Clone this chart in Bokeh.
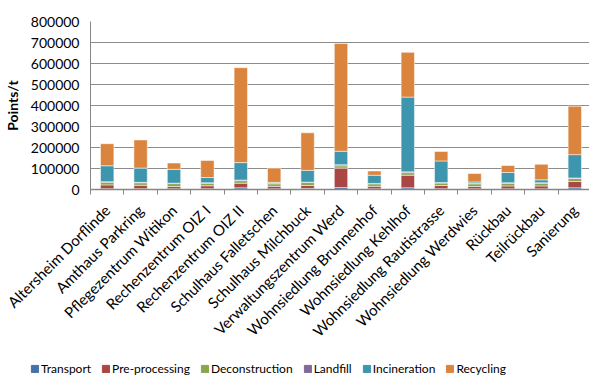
from bokeh.plotting import figure
from bokeh.models import FixedTicker, ColumnDataSource, Legend, NumeralTickFormatter
from bokeh.layouts import column
from bokeh.embed import file_html
from bokeh.resources import INLINE
import math

categories = ["Altersheim Dorflinde", "Amthaus Parkring", "Pflegezentrum Witikon",
              "Rechenzentrum OIZ I", "Rechenzentrum OIZ II", "Schulhaus Falletschen",
              "Schulhaus Milchbuck", "Verwaltungszentrum Werd", "Wohnsiedlung Brunnenhof",
              "Wohnsiedlung Kehlhof", "Wohnsiedlung Rautistrasse", "Wohnsiedlung Werdwies",
              "Rückbau", "Teilrückbau", "Sanierung"]

transport      = [4000, 4000, 3000, 4000, 8000, 3000, 5000, 9000, 3000, 8000, 4000, 3000, 3000, 3000, 8000]
pre_processing = [18000, 16000, 11000, 14000, 22000, 12000, 14000, 93000, 12000, 60000, 15000, 11000, 14000, 14000, 30000]
deconstruction = [13000, 12000, 14000, 12000, 12000, 12000, 14000, 11000, 12000, 12000, 12000, 13000, 13000, 13000, 14000]
landfill       = [2000, 2000, 2000, 2000, 3000, 2000, 2000, 5000, 2000, 4000, 2000, 3000, 2000, 2000, 3000]
incineration   = [76000, 68000, 66000, 25000, 83000, 5000, 56000, 64000, 39000, 356000, 103000, 6000, 49000, 14000, 111000]
recycling      = [105000, 134000, 30000, 81000, 452000, 68000, 179000, 513000, 20000, 213000, 45000, 40000, 33000, 74000, 231000]

series_names = ["Transport", "Pre-processing", "Deconstruction", "Landfill", "Incineration", "Recycling"]
series_keys = ["transport", "pre_processing", "deconstruction", "landfill", "incineration", "recycling"]
colors = ["#4572A7", "#AA4643", "#89A54E", "#80699B", "#3D96AE", "#DB843D"]
y_ticks = [0, 100000, 200000, 300000, 400000, 500000, 600000, 700000, 800000]

positions = list(range(1, len(categories) + 1))
source = ColumnDataSource(dict(x=positions, transport=transport, pre_processing=pre_processing,
                               deconstruction=deconstruction, landfill=landfill,
                               incineration=incineration, recycling=recycling))

FONT = "Lato"
p = figure(frame_width=501, frame_height=168, output_backend="svg", toolbar_location=None,
           x_range=(0.5, len(categories) + 0.5), y_range=(0, 800000),
           min_border_left=88, min_border_right=0, min_border_top=21, min_border_bottom=0)
p.outline_line_color = None
p.background_fill_color = "white"
p.border_fill_color = "white"

renderers = p.vbar_stack(series_keys, x="x", width=0.4, source=source, color=colors,
                         line_color="white", line_alpha=0.5, line_width=1)

# y axis
p.yaxis.ticker = FixedTicker(ticks=y_ticks)
p.yaxis.formatter = NumeralTickFormatter(format="0")
p.yaxis.major_tick_line_color = None
p.yaxis.minor_tick_line_color = None
p.yaxis.axis_line_color = "#868686"
p.yaxis.major_label_text_font = FONT
p.yaxis.major_label_text_font_size = "14px"
p.yaxis.major_label_text_color = "#000000"
p.yaxis.major_label_standoff = 5
p.yaxis.axis_label = "Points/t"
p.yaxis.axis_label_text_font = FONT
p.yaxis.axis_label_text_font_size = "14px"
p.yaxis.axis_label_text_font_style = "bold"
p.yaxis.axis_label_text_color = "#000000"
p.yaxis.axis_label_standoff = 7

p.ygrid.ticker = FixedTicker(ticks=y_ticks)
p.ygrid.grid_line_color = "#8c8c8c"
p.ygrid.grid_line_width = 1
p.xgrid.grid_line_color = None

# x axis: labels at centers, tick marks between categories
p.xaxis.ticker = FixedTicker(ticks=positions, minor_ticks=[x - 0.5 for x in positions] + [len(categories) + 0.5])
p.xaxis.major_label_overrides = {i: c for i, c in zip(positions, categories)}
p.xaxis.major_tick_line_color = None
p.xaxis.minor_tick_line_color = "#868686"
p.xaxis.minor_tick_out = 5
p.xaxis.minor_tick_in = 0
p.xaxis.axis_line_color = "#868686"
p.xaxis.axis_line_width = 1.5
p.xaxis.major_label_orientation = math.pi / 4
p.xaxis.major_label_text_font = FONT
p.xaxis.major_label_text_font_size = "15px"
p.xaxis.major_label_text_color = "#000000"
p.xaxis.major_label_standoff = 12

# legend strip (hidden duplicate renderers, only the legend is shown)
pl = figure(width=589, height=29, output_backend="svg", toolbar_location=None,
            x_range=(0, 1), y_range=(-2, -1), min_border=0)
pl.frame_align = False
pl.outline_line_color = None
pl.axis.visible = False
pl.grid.visible = False
lrend = pl.vbar_stack(series_keys, x="x", width=0.4, source=source, color=colors)
for r in lrend:
    r.visible = False

legend = Legend(items=[(n, [r]) for n, r in zip(series_names, lrend)],
                orientation="horizontal", location=(30, 2))
legend.glyph_width = 9
legend.glyph_height = 9
legend.label_height = 12
legend.label_standoff = 2
legend.spacing = 10
legend.padding = 0
legend.margin = 0
legend.border_line_color = None
legend.background_fill_alpha = 0
legend.inactive_fill_alpha = 0
legend.label_text_font = FONT
legend.label_text_font_size = "12px"
legend.label_text_color = "#000000"
pl.add_layout(legend, "center")

open("out.html", "w").write(file_html(column(p, pl, spacing=0), INLINE))
